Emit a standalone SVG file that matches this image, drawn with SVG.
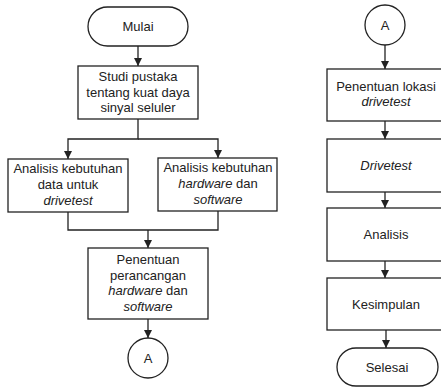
<svg xmlns="http://www.w3.org/2000/svg" width="441" height="387" viewBox="0 0 441 387">
<style>
.n{fill:#fff;stroke:#222;stroke-width:1.3}
.t{font-family:"Liberation Sans",Arial,sans-serif;font-size:13px;fill:#222;text-anchor:middle}
.i{font-style:italic}
.c{fill:none;stroke:#222;stroke-width:1.3}
</style>
<defs>
<marker id="ah" viewBox="0 0 8 10" refX="8" refY="5" markerWidth="8" markerHeight="10" markerUnits="userSpaceOnUse" orient="auto">
<path d="M0,1 L8,5 L0,9 Z" fill="#222"/>
</marker>
</defs>
<rect width="441" height="387" fill="#fff"/>
<g id="connectors">
<path class="c" d="M138,46 V66" marker-end="url(#ah)"/>
<path class="c" d="M138,119 V139 H68 V159" marker-end="url(#ah)"/>
<path class="c" d="M138,139 H218 V158" marker-end="url(#ah)"/>
<path class="c" d="M68,212 V230 H218 V211"/>
<path class="c" d="M148,230 V248" marker-end="url(#ah)"/>
<path class="c" d="M148,319 V338" marker-end="url(#ah)"/>
<path class="c" d="M385,45 V69" marker-end="url(#ah)"/>
<path class="c" d="M385,121 V139" marker-end="url(#ah)"/>
<path class="c" d="M385,192 V208" marker-end="url(#ah)"/>
<path class="c" d="M385,261 V278" marker-end="url(#ah)"/>
<path class="c" d="M386,330 V348" marker-end="url(#ah)"/>
</g>
<g id="mulai"><rect class="n" x="88" y="7" width="100" height="39" rx="19.5"/><text class="t" x="138" y="31">Mulai</text></g>
<g id="studi"><rect class="n" x="78" y="66" width="120" height="53"/><text class="t" x="138" y="81">Studi pustaka</text><text class="t" x="138" y="96.5">tentang kuat daya</text><text class="t" x="138" y="112">sinyal seluler</text></g>
<g id="analisis-data"><rect class="n" x="8" y="159" width="120" height="53"/><text class="t" x="68" y="172.5">Analisis kebutuhan</text><text class="t" x="68" y="188.5">data untuk</text><text class="t i" x="68" y="204.5">drivetest</text></g>
<g id="analisis-hw"><rect class="n" x="158" y="158" width="119" height="53"/><text class="t" x="218" y="172">Analisis kebutuhan</text><text class="t" x="218" y="188"><tspan class="i">hardware</tspan> dan</text><text class="t i" x="218" y="204">software</text></g>
<g id="penentuan"><rect class="n" x="88" y="248" width="120" height="71"/><text class="t" x="148" y="263.5">Penentuan</text><text class="t" x="148" y="279.5">perancangan</text><text class="t" x="148" y="295"><tspan class="i">hardware</tspan> dan</text><text class="t i" x="148" y="311">software</text></g>
<g id="a1"><circle class="n" cx="148" cy="358" r="20"/><text class="t" x="148" y="362.5">A</text></g>
<g id="a2"><circle class="n" cx="385" cy="25" r="20"/><text class="t" x="385" y="29.5">A</text></g>
<g id="lokasi"><rect class="n" x="327" y="69" width="116" height="52"/><text class="t" x="386" y="90.5">Penentuan lokasi</text><text class="t i" x="386" y="106">drivetest</text></g>
<g id="drivetest"><rect class="n" x="327" y="139" width="116" height="53"/><text class="t i" x="386" y="170">Drivetest</text></g>
<g id="analisis"><rect class="n" x="327" y="208" width="116" height="53"/><text class="t" x="386" y="239">Analisis</text></g>
<g id="kesimpulan"><rect class="n" x="327" y="278" width="116" height="52"/><text class="t" x="386" y="308.5">Kesimpulan</text></g>
<g id="selesai"><rect class="n" x="337" y="348" width="101" height="38" rx="19"/><text class="t" x="387" y="371.5">Selesai</text></g>
</svg>
